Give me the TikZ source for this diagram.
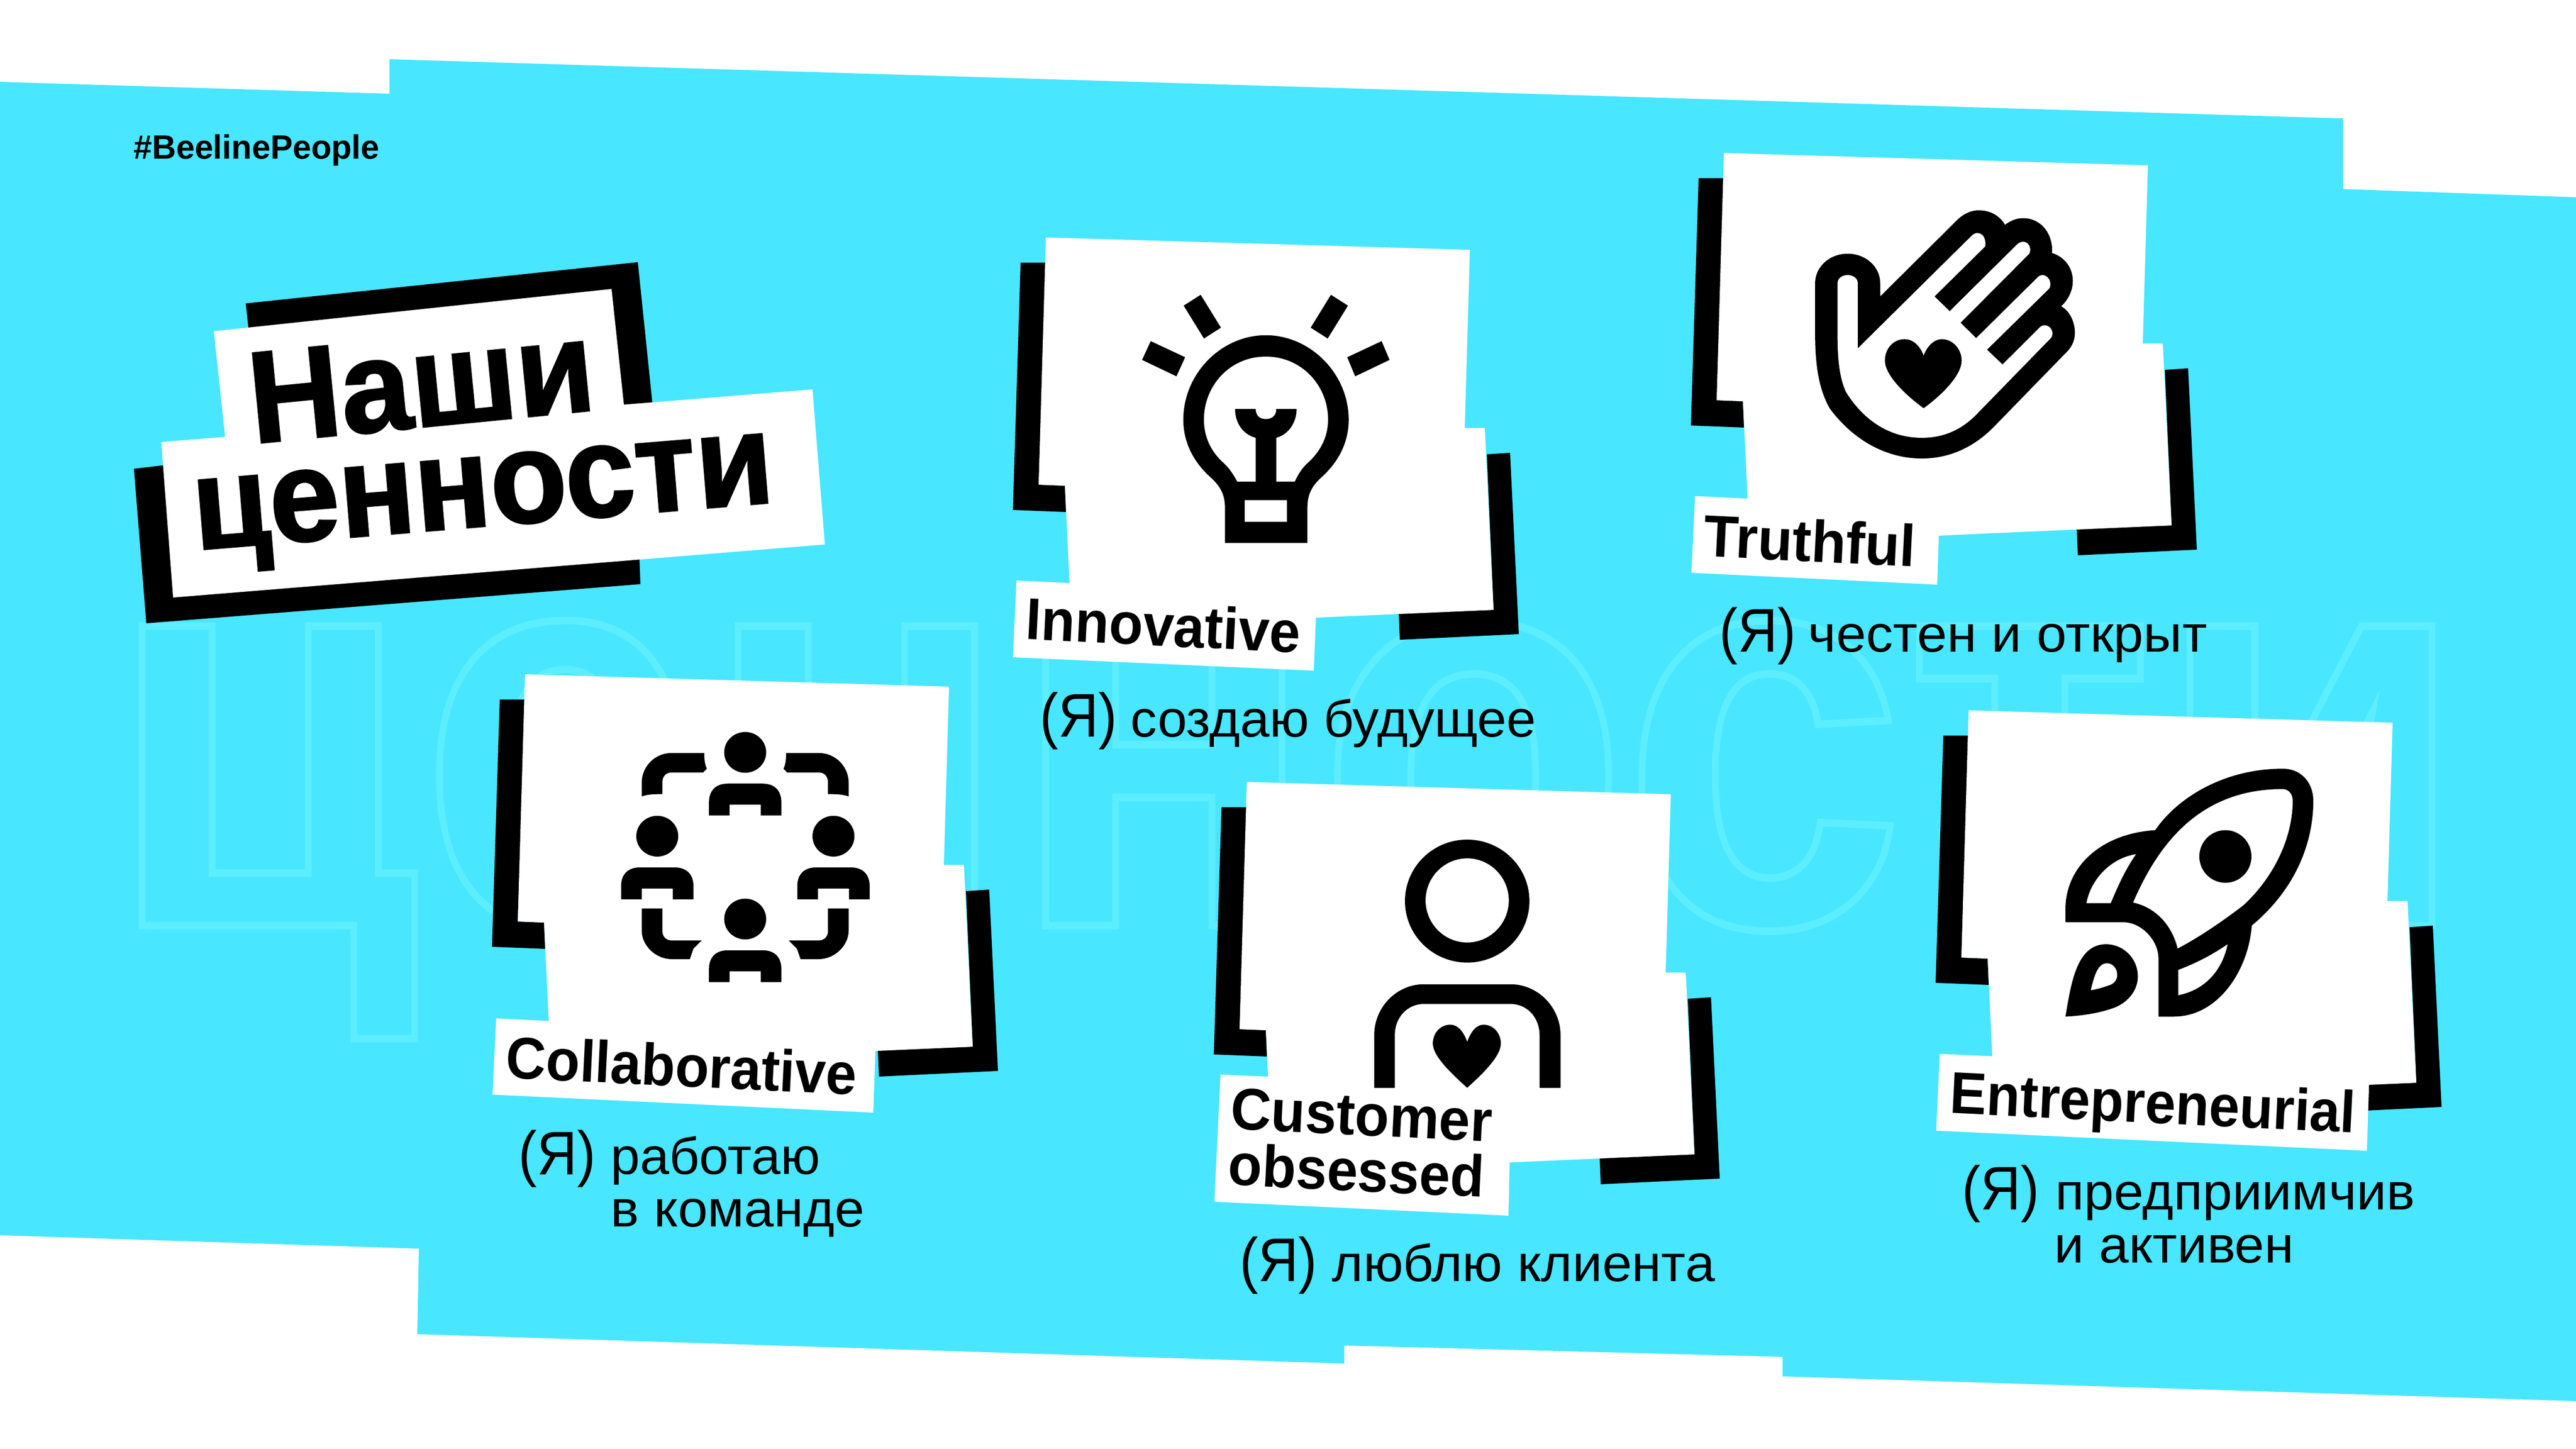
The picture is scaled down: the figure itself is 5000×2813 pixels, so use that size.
\documentclass[tikz,border=0pt]{standalone}
\usepackage{fontspec}
\usepackage{graphicx}
\setmainfont{Liberation Sans}
\newfontfamily\boldf{Liberation Sans Bold}
\newfontfamily\heavyf[FakeBold=1.6]{Liberation Sans Bold}
\definecolor{bgblue}{HTML}{48E6FF}
\newcommand\fitw[2]{\resizebox{#1\pxu}{\height}{#2}}
\newlength\pxu \setlength\pxu{0.01cm}
\newcommand\valcard[2]{%
  \begin{scope}[shift={(#1,#2)}]
    \fill[black] (0,49) -- (-49,49) -- (-64,529) -- (39,533) -- (37,482) -- (-14,480) -- cycle;
    \fill[black] (856,421) -- (901,418) -- (918,770) -- (687,781) -- (685,730) -- (869,723) -- cycle;
    \fill[white] (0,0) -- (823,24) -- (813,370) -- (852,370) -- (869,723) -- (525,738) -- (50,760) -- (46,672) -- (37,482) -- (-14,480) -- cycle;
  \end{scope}}
\tikzset{
  zoomcs/.style n args={2}{shift={(#1,#2)},x=0.007015cm,y=-0.006378cm},
  lbl/.style={inner sep=0pt,anchor=base,text=black},
  capt/.style={inner sep=0pt,anchor=base west,text=black},
}
\newcommand\person[2]{%
  \fill (#1,#2) ellipse [x radius=58,y radius=62];
  \fill ({#1-100},{#2+192}) -- ({#1-100},{#2+152}) .. controls ({#1-100},{#2+115}) and ({#1-80},{#2+95}) .. ({#1-48},{#2+95}) -- ({#1+48},{#2+95}) .. controls ({#1+80},{#2+95}) and ({#1+100},{#2+115}) .. ({#1+100},{#2+152}) -- ({#1+100},{#2+192}) -- ({#1+43},{#2+192}) -- ({#1+43},{#2+159}) -- ({#1-43},{#2+159}) -- ({#1-43},{#2+192}) -- cycle;}
\begin{document}
\begin{tikzpicture}[x=0.01cm,y=-0.01cm]
\useasboundingbox (0,0) rectangle (5000,2813);
\fill[white] (0,0) rectangle (5000,2813);
\fill[bgblue] (0,159) -- (756,182) -- (756,115) -- (4548,230) -- (4548,367) -- (5000,383) -- (5000,2720) -- (3460,2672) -- (3460,2634) -- (2609,2612) -- (2609,2647) -- (810,2590) -- (813,2424) -- (0,2398) -- cycle;
% ghost outlined word
\node[inner sep=0pt,anchor=base west] (ghost) at (206,1797) {\special{pdf:code q 1 Tr 4.2 w 0.36 0.93 1 RG}\resizebox{4582\pxu}{\height}{\fontsize{313}{320}\boldf ценности}\special{pdf:code 0 Tr Q}};
% title
\fill[black] (477,589) -- (1238,509) -- (1267,790) -- (500,800) -- cycle;
\fill[black] (260,910) -- (284,1210) -- (1243,1134) -- (1238,1000) -- (320,903) -- cycle;
\fill[white] (415,643) -- (1187,561) -- (1211,786) -- (1211,900) -- (437,900) -- (437,849) -- cycle;
\fill[white] (313,858) -- (1577,756) -- (1601,1057) -- (336,1160) -- cycle;
\node[lbl,rotate=5.6] (title1) at (826,828) {\fitw{672}{\fontsize{72}{80}\heavyf Наши}};
\node[lbl,rotate=4.7] (title2) at (943,1021) {\fitw{1130}{\fontsize{72}{80}\heavyf ценности}};
\node[capt] (tag) at (259,309) {\fitw{477}{\fontsize{18.6}{22}\boldf \#BeelinePeople}};
% cards
\valcard{2030}{461}
\valcard{3346}{297}
\valcard{1019}{1309}
\valcard{2420}{1518}
\valcard{3821}{1379}
% label plates
\fill[white] (1973,1127) -- (2556,1154) -- (2550,1302) -- (1966,1276) -- cycle;
\fill[white] (3290,963) -- (3765,986) -- (3760,1135) -- (3283,1112) -- cycle;
\fill[white] (963,1977) -- (1700,2013) -- (1695,2160) -- (956,2125) -- cycle;
\fill[white] (2369,2086) -- (2933,2111) -- (2928,2360) -- (2357,2333) -- cycle;
\fill[white] (3765,2046) -- (4599,2083) -- (4594,2234) -- (3758,2195) -- cycle;
% bulb
\begin{scope}[zoomcs={1900}{400}]
\fill (566,303) -- (613,270) -- (669,370) -- (622,403) -- cycle;
\fill (451,468) -- (475,411) -- (570,460) -- (546,518) -- cycle;
\fill (1020,303) -- (973,270) -- (917,370) -- (964,403) -- cycle;
\fill (1018,460) -- (1113,411) -- (1135,468) -- (1040,518) -- cycle;
\fill (680,1025) -- (680,915) .. controls (680,870) and (660,845) .. (640,825) .. controls (590,775) and (565,715) .. (565,650) .. controls (565,510) and (670,393) .. (793,393) .. controls (916,393) and (1022,510) .. (1022,650) .. controls (1022,715) and (997,775) .. (947,825) .. controls (927,845) and (908,870) .. (908,915) -- (908,1025) -- cycle;
\fill[white] (714,838) .. controls (700,810) and (690,795) .. (675,780) .. controls (640,745) and (622,700) .. (622,650) .. controls (622,545) and (695,458) .. (793,458) .. controls (891,458) and (965,545) .. (965,650) .. controls (965,700) and (945,745) .. (910,780) .. controls (895,795) and (885,810) .. (873,838) -- cycle;
\fill (708,617) -- (765,617) .. controls (765,640) and (778,648) .. (793,648) .. controls (808,648) and (822,640) .. (822,617) -- (878,617) .. controls (878,660) and (855,695) .. (822,705) -- (822,845) -- (765,845) -- (765,705) .. controls (730,695) and (708,660) .. (708,617) -- cycle;
\fill[white] (735,895) rectangle (852,960);
\end{scope}
% hand
\begin{scope}[zoomcs={3200}{250}]
\fill (460,470) .. controls (460,420) and (500,380) .. (550,380) .. controls (600,380) and (640,420) .. (640,470) -- (640,510) -- (855,275) .. controls (875,255) and (895,248) .. (912,248) .. controls (945,248) and (970,265) .. (985,292) .. controls (1000,280) and (1015,272) .. (1035,272) .. controls (1085,272) and (1118,320) .. (1115,378) .. controls (1150,390) and (1175,425) .. (1172,470) .. controls (1170,500) and (1155,525) .. (1140,540) .. controls (1165,555) and (1178,590) .. (1178,620) .. controls (1178,650) and (1165,670) .. (1150,685) -- (960,900) .. controls (900,970) and (830,1003) .. (755,1003) .. controls (650,1003) and (560,940) .. (500,850) .. controls (470,790) and (460,720) .. (460,620) -- cycle;
\fill[white] (522,470) .. controls (522,455) and (535,445) .. (550,445) .. controls (565,445) and (578,455) .. (578,470) -- (578,668) -- (893,325) .. controls (912,305) and (935,325) .. (930,358) -- (790,510) -- (832,555) -- (1018,352) .. controls (1040,330) and (1062,355) .. (1052,380) -- (862,590) -- (905,637) -- (1075,452) .. controls (1092,432) and (1118,458) .. (1108,485) -- (935,672) -- (978,717) -- (1080,605) .. controls (1098,585) and (1125,610) .. (1113,635) -- (905,870) .. controls (860,920) and (810,940) .. (755,940) .. controls (660,940) and (590,880) .. (545,800) .. controls (525,750) and (522,690) .. (522,620) -- cycle;
\fill (760,690) .. controls (750,660) and (730,640) .. (708,640) .. controls (675,640) and (653,670) .. (653,705) .. controls (653,750) and (710,810) .. (760,850) .. controls (810,810) and (865,750) .. (865,705) .. controls (865,670) and (840,640) .. (810,640) .. controls (790,640) and (770,660) .. (760,690) -- cycle;
\end{scope}
% team
\begin{scope}[zoomcs={900}{1280}]
\person{778}{283}
\person{535}{538}
\person{1022}{538}
\person{778}{790}
\fill (665,285) -- (575,285) .. controls (525,285) and (492,330) .. (492,375) -- (492,417) .. controls (510,410) and (530,410) .. (549,410) -- (549,375) .. controls (549,355) and (560,344) .. (575,344) -- (662,344) -- (672,333) .. controls (665,315) and (665,300) .. (665,285) -- cycle;
\fill (891,285) -- (981,285) .. controls (1031,285) and (1064,330) .. (1064,375) -- (1064,417) .. controls (1046,410) and (1026,410) .. (1007,410) -- (1007,375) .. controls (1007,355) and (996,344) .. (981,344) -- (894,344) -- (884,333) .. controls (891,315) and (891,300) .. (891,285) -- cycle;
\fill (492,758) -- (549,758) -- (549,825) .. controls (549,845) and (560,855) .. (575,855) -- (658,855) -- (635,880) -- (625,912) -- (575,912) .. controls (530,912) and (492,870) .. (492,825) -- cycle;
\fill (1064,758) -- (1007,758) -- (1007,825) .. controls (1007,845) and (996,855) .. (981,855) -- (898,855) -- (921,880) -- (931,912) -- (981,912) .. controls (1026,912) and (1064,870) .. (1064,825) -- cycle;
\end{scope}
% customer
\begin{scope}[zoomcs={2300}{1480}]
\fill[even odd rule] (780,422) ellipse [x radius=172,y radius=187] (780,420) ellipse [x radius=115,y radius=128];
\fill (523,990) -- (523,830) .. controls (523,745) and (585,675) .. (660,675) -- (900,675) .. controls (975,675) and (1038,745) .. (1038,830) -- (1038,990) -- (980,990) -- (980,830) .. controls (980,775) and (945,735) .. (900,735) -- (660,735) .. controls (615,735) and (580,775) .. (580,830) -- (580,990) -- cycle;
\fill (780,850) .. controls (770,820) and (755,798) .. (733,798) .. controls (705,798) and (685,825) .. (685,855) .. controls (685,895) and (740,950) .. (780,990) .. controls (820,950) and (873,895) .. (873,855) .. controls (873,825) and (853,798) .. (825,798) .. controls (805,798) and (790,820) .. (780,850) -- cycle;
\end{scope}
% rocket
\begin{scope}[zoomcs={3700}{1350}]
\fill (688,410) .. controls (750,310) and (880,223) .. (1040,223) .. controls (1095,223) and (1125,270) .. (1125,320) .. controls (1125,450) and (1075,590) .. (955,700) .. controls (945,840) and (860,977) .. (740,977) -- (697,977) -- (697,800) .. controls (697,745) and (650,690) .. (600,690) -- (440,690) -- (440,650) .. controls (440,520) and (540,420) .. (688,410) -- cycle;
\fill[white] (627,630) .. controls (690,470) and (800,285) .. (1040,285) .. controls (1060,285) and (1068,305) .. (1068,320) .. controls (1068,440) and (1010,560) .. (930,640) .. controls (870,690) and (810,735) .. (750,770) .. controls (735,700) and (690,645) .. (627,630) -- cycle;
\fill[white] (498,632) .. controls (510,560) and (565,495) .. (635,483) .. controls (605,530) and (585,580) .. (565,632) -- cycle;
\fill[white] (752,835) .. controls (800,815) and (845,790) .. (888,757) .. controls (875,830) and (830,895) .. (752,912) -- cycle;
\fill (882,490) ellipse [x radius=72,y radius=80];
\fill (440,977) .. controls (455,880) and (470,757) .. (552,757) .. controls (600,757) and (640,800) .. (640,855) .. controls (640,900) and (610,935) .. (575,950) .. controls (530,968) and (480,975) .. (440,977) -- cycle;
\fill[white] (510,897) .. controls (520,850) and (530,815) .. (555,815) .. controls (570,815) and (583,830) .. (583,850) .. controls (583,865) and (575,875) .. (565,880) .. controls (545,888) and (530,893) .. (510,897) -- cycle;
\end{scope}
% labels
\node[lbl,rotate=-2.8] (innov) at (2256,1254) {\fitw{533}{\fontsize{32.5}{36}\boldf Innovative}};
\node[lbl,rotate=-2.8] (truth) at (3511,1090) {\fitw{411}{\fontsize{32.5}{36}\boldf Truthful}};
\node[lbl,rotate=-2.8] (collab) at (1321,2109) {\fitw{681}{\fontsize{32.5}{36}\boldf Collaborative}};
\node[lbl,rotate=-2.8] (cust1) at (2641,2204) {\fitw{508}{\fontsize{32.5}{36}\boldf Customer}};
\node[lbl,rotate=-2.8] (cust2) at (2631,2312) {\fitw{497}{\fontsize{32.5}{36}\boldf obsessed}};
\node[lbl,rotate=-2.8] (entre) at (4177,2180) {\fitw{788}{\fontsize{32.5}{36}\boldf Entrepreneurial}};
% captions
\newcommand\bigya{\fontsize{34}{40}\selectfont (Я)}
\newcommand\capf{\fontsize{28.5}{34}\selectfont}
\node[capt] (c1a) at (2018,1430) {\fitw{150}{\bigya}};
\node[capt] (c1b) at (2194,1430) {\fitw{787}{\capf создаю будущее}};
\node[capt] (c2a) at (3337,1265) {\fitw{148}{\bigya}};
\node[capt] (c2b) at (3509,1265) {\fitw{774}{\capf честен и открыт}};
\node[capt] (c3a) at (1006,2280) {\fitw{150}{\bigya}};
\node[capt] (c3b) at (1185,2279) {\fitw{406}{\capf работаю}};
\node[capt] (c3c) at (1185,2381) {\fitw{492}{\capf в команде}};
\node[capt] (c4a) at (2406,2487) {\fitw{150}{\bigya}};
\node[capt] (c4b) at (2585,2487) {\fitw{743}{\capf люблю клиента}};
\node[capt] (c5a) at (3808,2348) {\fitw{150}{\bigya}};
\node[capt] (c5b) at (3989,2348) {\fitw{697}{\capf предприимчив}};
\node[capt] (c5c) at (3987,2451) {\fitw{465}{\capf и активен}};
\end{tikzpicture}
\end{document}
